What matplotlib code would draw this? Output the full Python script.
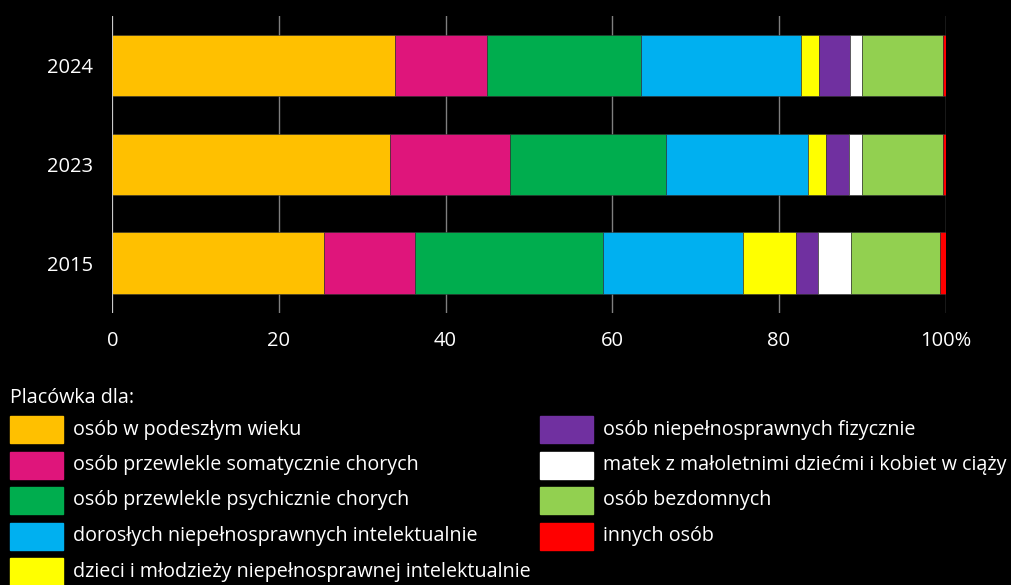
import matplotlib
matplotlib.use("Agg")
import matplotlib.pyplot as plt
from matplotlib.patches import Rectangle
import numpy as np

plt.rcParams['font.family'] = ['Open Sans', 'DejaVu Sans']

years = ['2015', '2023', '2024']
labels = [
    'osób w podeszłym wieku',
    'osób przewlekle somatycznie chorych',
    'osób przewlekle psychicznie chorych',
    'dorosłych niepełnosprawnych intelektualnie',
    'dzieci i młodzieży niepełnosprawnej intelektualnie',
    'osób niepełnosprawnych fizycznie',
    'matek z małoletnimi dziećmi i kobiet w ciąży',
    'osób bezdomnych',
    'innych osób',
]
colors = ['#FFC000', '#DF157B', '#00AD4E', '#00B0F0', '#FFFF00',
          '#7030A0', '#FFFFFF', '#92D050', '#FF0000']

# shares in %, rows = years (2015, 2023, 2024)
shares_2015 = [25.4, 10.9, 22.6, 16.8, 6.3, 2.7, 4.0, 10.6, 0.7]
shares_2023 = [33.3, 14.4, 18.7, 17.1, 2.1, 2.8, 1.6, 9.7, 0.3]
shares_2024 = [33.9, 11.1, 18.4, 19.3, 2.1, 3.7, 1.5, 9.7, 0.3]

xticks = [0, 20, 40, 60, 80, 100]
xticklabels = ['0', '20', '40', '60', '80', '100%']

def main():
    data = np.array([shares_2015, shares_2023, shares_2024])
    fig = plt.figure(figsize=(10.11, 5.85), dpi=100, facecolor='black')
    ax = fig.add_axes([112.3 / 1011, 1 - 312.6 / 585, 833.3 / 1011, 296.8 / 585])
    ax.set_facecolor('black')

    y = np.arange(len(years))
    left = np.zeros(len(years))
    for i in range(len(labels)):
        ax.barh(y, data[:, i], left=left, height=0.62, color=colors[i],
                edgecolor='#333333', linewidth=0.4, zorder=3)
        left += data[:, i]

    ax.set_xlim(0, 100)
    ax.set_ylim(-0.5, 2.5)
    ax.set_xticks(xticks)
    ax.set_xticklabels(xticklabels)
    ax.set_yticks(y)
    ax.set_yticklabels(years)
    ax.tick_params(length=0, colors='white', labelsize=14.5)
    ax.tick_params(axis='x', pad=13)
    ax.tick_params(axis='y', pad=14)
    ax.grid(axis='x', color='#7f7f7f', linewidth=1, zorder=0)
    for s in ax.spines.values():
        s.set_visible(False)
    ax.axvline(0, color='#d9d9d9', linewidth=1.2, zorder=4)

    # legend
    W, H = 1011, 585
    fs = 14.2
    fig.text(10 / W, 1 - 398 / H, 'Placówka dla:', color='white',
             fontsize=fs, va='center', ha='left')
    for i, (lab, col) in enumerate(zip(labels, colors)):
        c = i // 5
        r = i % 5
        x0 = 10 if c == 0 else 540
        yc = 429.5 + r * 35.5
        fig.add_artist(Rectangle((x0 / W, 1 - (yc + 13.5) / H), 53 / W, 27 / H,
                                 transform=fig.transFigure, color=col))
        fig.text((x0 + 63) / W, 1 - yc / H, lab, color='white',
                 fontsize=fs, va='center', ha='left')

    fig.savefig('out.png', dpi=100, facecolor='black')


if __name__ == '__main__':
    main()
